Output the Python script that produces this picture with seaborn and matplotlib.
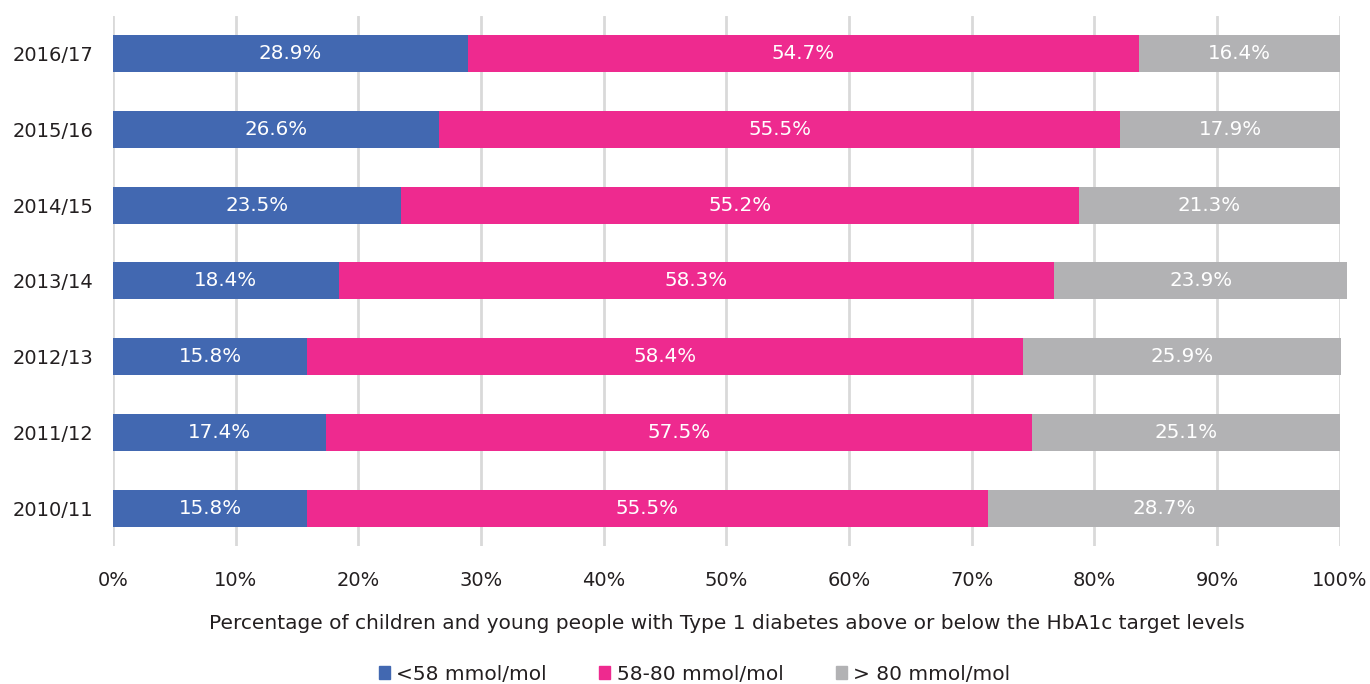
import matplotlib
matplotlib.use('Agg')
import matplotlib.pyplot as plt
import matplotlib.patches as mpatches
import seaborn as sns
import pandas as pd

# values
years = ['2016/17', '2015/16', '2014/15', '2013/14', '2012/13', '2011/12', '2010/11']
below_58 = [28.9, 26.6, 23.5, 18.4, 15.8, 17.4, 15.8]
mid_58_80 = [54.7, 55.5, 55.2, 58.3, 58.4, 57.5, 55.5]
above_80 = [16.4, 17.9, 21.3, 23.9, 25.9, 25.1, 28.7]
series_names = ['<58 mmol/mol', '58-80 mmol/mol', '> 80 mmol/mol']
colors = ['#4268B1', '#EE2A8F', '#B2B2B4']

df = pd.DataFrame({'year': years, 'low': below_58, 'mid': mid_58_80, 'high': above_80})
df['cum_low'] = df['low']
df['cum_mid'] = df['low'] + df['mid']
df['cum_high'] = df['cum_mid'] + df['high']

sns.set_theme(style='white')
plt.rcParams['font.family'] = ['DejaVu Sans']
text_col = '#231F20'

fig = plt.figure(figsize=(13.7, 6.84), dpi=100)
ax = fig.add_axes([0.0825, 0.2018, 0.8955, 0.775])

# stacked look: draw cumulative totals from the largest down
for col, c in zip(['cum_high', 'cum_mid', 'cum_low'], colors[::-1]):
    sns.barplot(data=df, x=col, y='year', color=c, width=0.49, ax=ax,
                linewidth=0, saturation=1, zorder=3)

for bar in ax.patches:
    bar.set_clip_on(False)

# segment labels
for i, row in df.iterrows():
    segs = [(0, row['low']), (row['cum_low'], row['mid']), (row['cum_mid'], row['high'])]
    for start, w in segs:
        ax.text(start + w / 2, i, f'{w:.1f}%', ha='center', va='center',
                color='white', fontsize=14.3, zorder=5)

ax.set_xlim(0, 100)
ax.set_ylim(6.5, -0.5)
ax.set_xticks(range(0, 101, 10))
ax.set_xticklabels([f'{v}%' for v in range(0, 101, 10)], fontsize=14, color=text_col)
ax.tick_params(axis='y', labelsize=14, labelcolor=text_col, length=0, pad=14)
ax.tick_params(axis='x', length=0, pad=18)
ax.grid(axis='x', color='#D9D9D9', linewidth=2, zorder=0)
ax.set_axisbelow(True)
for s in ax.spines.values():
    s.set_visible(False)
ax.set_ylabel('')
ax.set_xlabel('Percentage of children and young people with Type 1 diabetes above or below the HbA1c target levels',
              fontsize=14.5, color=text_col, labelpad=17)

handles = [mpatches.Patch(color=c, label=n) for c, n in zip(colors, series_names)]
fig.legend(handles=handles, loc='lower center', bbox_to_anchor=(0.507, -0.026), ncol=3,
           frameon=False, fontsize=14.5, handlelength=0.55, handleheight=0.55,
           handletextpad=0.3, columnspacing=2.6, labelcolor=text_col)

fig.savefig('out.png', dpi=100)
